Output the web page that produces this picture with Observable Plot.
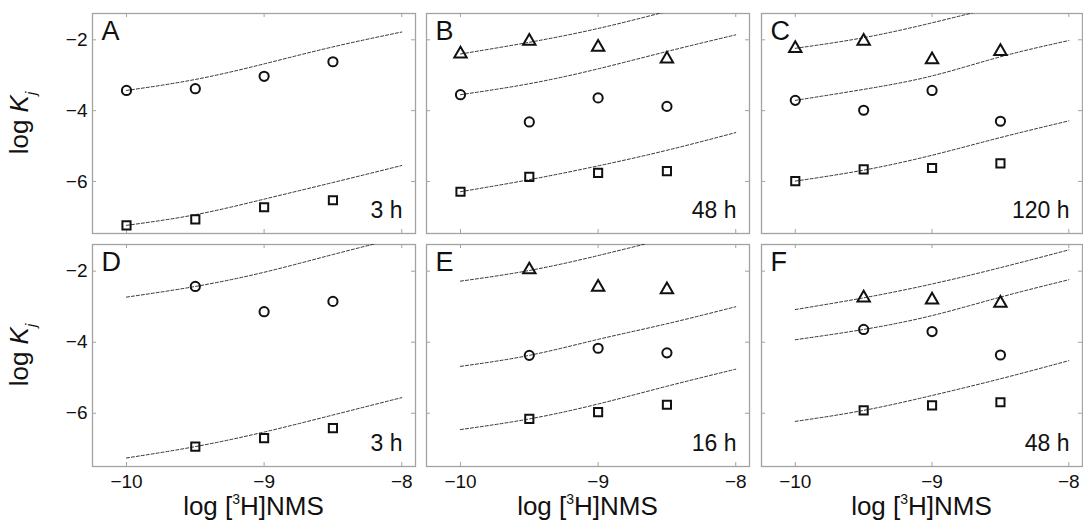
<!DOCTYPE html>
<html>
<head>
<meta charset="utf-8">
<script src="https://cdn.jsdelivr.net/npm/d3@7"></script>
<script src="https://cdn.jsdelivr.net/npm/@observablehq/plot@0.6"></script>
<style>
  body { margin: 0; background: #fff; }
  #fig { position: relative; width: 1083px; height: 529px; background: #fff; overflow: hidden;
         font-family: "Liberation Sans", Arial, Helvetica, sans-serif; color: #111; }
  #fig svg { position: absolute; overflow: visible; }
</style>
</head>
<body>
<div id="fig"></div>
<script>
// ---- data ---------------------------------------------------------------
// log [3H]NMS concentrations used in the experiments and for the fitted curves
const logNMS = [-10, -9.5, -9, -8.5];
const fitNMS = [-10, -9.5, -9, -8.5, -8];
const xTicks = [-10, -9, -8];
const yTicks = [-2, -4, -6];
const panelLetters = ["A", "B", "C", "D", "E", "F"];
const incubationTimes = ["3 h", "48 h", "120 h", "3 h", "16 h", "48 h"];

// observed log Kj (null = concentration not tested)
const squaresA = [-7.24, -7.07, -6.73, -6.53];
const circlesA = [-3.43, -3.38, -3.03, -2.62];
const squaresB = [-6.29, -5.87, -5.76, -5.71];
const circlesB = [-3.55, -4.32, -3.64, -3.88];
const trianglesB = [-2.40, -2.04, -2.21, -2.54];
const squaresC = [-5.99, -5.66, -5.62, -5.49];
const circlesC = [-3.71, -3.99, -3.43, -4.30];
const trianglesC = [-2.24, -2.04, -2.56, -2.33];
const squaresD = [null, -6.94, -6.70, -6.42];
const circlesD = [null, -2.43, -3.14, -2.85];
const squaresE = [null, -6.16, -5.97, -5.76];
const circlesE = [null, -4.37, -4.17, -4.30];
const trianglesE = [null, -1.96, -2.45, -2.52];
const squaresF = [null, -5.92, -5.78, -5.69];
const circlesF = [null, -3.64, -3.70, -4.36];
const trianglesF = [null, -2.75, -2.81, -2.90];

// fitted log Kj at fitNMS, one row per curve
const fitsA = [[-7.24, -6.94, -6.50, -6.03, -5.55], [-3.43, -3.12, -2.68, -2.20, -1.78]];
const fitsB = [[-6.29, -5.95, -5.56, -5.12, -4.62], [-3.55, -3.24, -2.82, -2.33, -1.86], [-2.40, -2.07, -1.68, -1.20, -0.71]];
const fitsC = [[-5.99, -5.68, -5.26, -4.76, -4.29], [-3.71, -3.40, -3.02, -2.48, -2.02], [-2.24, -1.94, -1.52, -1.04, -0.55]];
const fitsD = [[-7.26, -6.94, -6.53, -6.05, -5.56], [-2.73, -2.43, -2.03, -1.53, -1.04]];
const fitsE = [[-6.46, -6.16, -5.74, -5.24, -4.76], [-4.68, -4.37, -3.92, -3.48, -3.00], [-2.28, -1.98, -1.56, -1.08, -0.60]];
const fitsF = [[-6.23, -5.92, -5.50, -5.03, -4.52], [-3.93, -3.64, -3.25, -2.73, -2.24], [-3.08, -2.75, -2.36, -1.90, -1.40]];

const squares = [squaresA, squaresB, squaresC, squaresD, squaresE, squaresF];
const circles = [circlesA, circlesB, circlesC, circlesD, circlesE, circlesF];
const triangles = [null, trianglesB, trianglesC, null, trianglesE, trianglesF];
const fits = [fitsA, fitsB, fitsC, fitsD, fitsE, fitsF];

// ---- layout -------------------------------------------------------------
const colLeft = [92, 426, 761], colRight = [415, 749, 1082];
const rowTop = [13, 244], rowBottom = [233, 466];
const xDomain = [-10.247, -7.90];
const yDomains = [[-7.47, -1.257], [-7.50, -1.248]];
const frameGray = "#a3a3a3";
const fontFamily = '"Liberation Sans", Arial, Helvetica, sans-serif';
const minusFormat = d => String(d).replace("-", "\u2212");

const fig = document.getElementById("fig");

panelLetters.forEach((letter, i) => {
  const col = i % 3, row = Math.floor(i / 3);
  const w = colRight[col] - colLeft[col];
  const h = rowBottom[row] - rowTop[row];

  const points = [];
  [["square", squares[i]], ["circle", circles[i]], ["triangle", triangles[i]]].forEach(([symbol, vals]) => {
    if (!vals) return;
    vals.forEach((v, j) => { if (v != null) points.push({x: logNMS[j], y: v, symbol}); });
  });
  const curves = fits[i].flatMap((vals, k) => fitNMS.map((x, j) => ({x, y: vals[j], curve: k})));

  const marks = [
    Plot.frame({stroke: frameGray, strokeWidth: 1.3}),
    // inward ticks on all four sides
    Plot.tickX(xTicks, {x: d => d, insetBottom: h - 4, stroke: frameGray}),
    Plot.tickX(xTicks, {x: d => d, insetTop: h - 4, stroke: frameGray}),
    Plot.tickY(yTicks, {y: d => d, insetRight: w - 4, stroke: frameGray}),
    Plot.tickY(yTicks, {y: d => d, insetLeft: w - 4, stroke: frameGray}),
    Plot.line(curves, {x: "x", y: "y", z: "curve", curve: "natural", stroke: "#333",
      strokeWidth: 1, strokeDasharray: "3,2", clip: true}),
    Plot.dot(points, {x: "x", y: "y", symbol: "symbol", r: 4.6, stroke: "#111",
      strokeWidth: 2, fill: "none"}),
    Plot.text([letter], {text: d => d, frameAnchor: "top-left", textAnchor: "start",
      lineAnchor: "top", dx: 9, dy: 7, fontSize: 27, fill: "#111"}),
    Plot.text([incubationTimes[i]], {text: d => d, frameAnchor: "bottom-right", textAnchor: "end",
      lineAnchor: "bottom", dx: -13, dy: -16, fontSize: 23, fill: "#111"})
  ];
  if (col === 0) marks.push(Plot.axisY({ticks: yTicks, tickSize: 0, tickPadding: 5,
    tickFormat: minusFormat, fontSize: 19, label: null}));
  if (row === 1) marks.push(Plot.axisX({ticks: xTicks, tickSize: 0, tickPadding: 8,
    tickFormat: minusFormat, fontSize: 19, label: null}));

  const svg = Plot.plot({
    width: w, height: h,
    marginLeft: 0, marginRight: 0, marginTop: 0, marginBottom: 0,
    x: {domain: xDomain, axis: null},
    y: {domain: yDomains[row], axis: null},
    style: {overflow: "visible", background: "transparent", fontFamily, color: "#111"},
    marks
  });
  svg.style.left = colLeft[col] + "px";
  svg.style.top = rowTop[row] + "px";
  svg.style.maxWidth = "none";
  fig.appendChild(svg);
});

// ---- axis titles --------------------------------------------------------
const titles = d3.select(fig).append("svg")
  .attr("width", 1083).attr("height", 529)
  .style("left", "0px").style("top", "0px")
  .style("font-family", fontFamily).attr("fill", "#111");

[0, 1].forEach(row => {
  const cy = (rowTop[row] + rowBottom[row]) / 2;
  const t = titles.append("text")
    .attr("transform", `translate(28,${cy}) rotate(-90)`)
    .attr("text-anchor", "middle").attr("font-size", 26);
  t.append("tspan").text("log ");
  t.append("tspan").attr("font-style", "italic").text("K");
  t.append("tspan").attr("font-style", "italic").attr("font-size", 15).attr("dy", 8).text("j");
});

[0, 1, 2].forEach(col => {
  const cx = (colLeft[col] + colRight[col]) / 2;
  const t = titles.append("text")
    .attr("x", cx).attr("y", 515)
    .attr("text-anchor", "middle").attr("font-size", 26);
  t.append("tspan").text("log [");
  t.append("tspan").attr("font-size", 14).attr("dy", -11).text("3");
  t.append("tspan").attr("dy", 11).text("H]NMS");
});
</script>
</body>
</html>
